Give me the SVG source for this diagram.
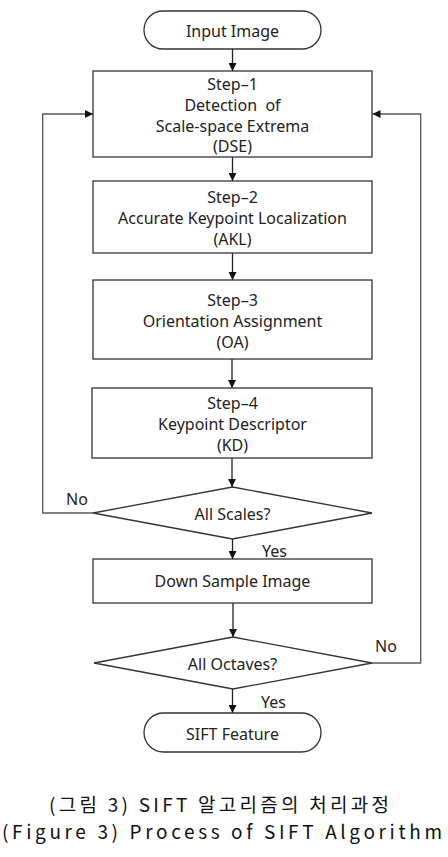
<svg xmlns="http://www.w3.org/2000/svg" width="448" height="857" viewBox="0 0 448 857">
<defs>
<marker id="ah" viewBox="0 0 10 10" refX="10" refY="5" markerWidth="8" markerHeight="8" markerUnits="userSpaceOnUse" orient="auto">
<path d="M0,0 L10,5 L0,10 z" fill="#111"/>
</marker>
</defs>
<style>
.n{fill:#fff;stroke:#333;stroke-width:1.3}
.t{font-family:"Noto Sans","Open Sans",sans-serif;font-size:16px;fill:#222;text-anchor:middle}
.l{font-family:"Noto Sans","Open Sans",sans-serif;font-size:16px;fill:#222}
.c{fill:none;stroke:#222;stroke-width:1.3}
.f{fill:none;stroke:#555;stroke-width:1.3}
.cap{font-family:"Noto Sans CJK KR","Noto Sans",sans-serif;font-size:19px;fill:#111}
</style>
<rect width="448" height="857" fill="#fff"/>
<g id="connectors">
<line class="c" x1="232.5" y1="49" x2="232.5" y2="71" marker-end="url(#ah)"/>
<line class="c" x1="232.5" y1="157" x2="232.5" y2="181" marker-end="url(#ah)"/>
<line class="c" x1="232.5" y1="253" x2="232.5" y2="280" marker-end="url(#ah)"/>
<line class="c" x1="232" y1="359" x2="232" y2="388" marker-end="url(#ah)"/>
<line class="c" x1="232" y1="458" x2="232" y2="487" marker-end="url(#ah)"/>
<line class="c" x1="232.5" y1="539" x2="232.5" y2="559" marker-end="url(#ah)"/>
<line class="c" x1="233" y1="603" x2="233" y2="637" marker-end="url(#ah)"/>
<line class="c" x1="232.5" y1="689" x2="232.5" y2="713" marker-end="url(#ah)"/>
<polyline class="f" points="93,513 42.7,513 42.7,114 93,114" marker-end="url(#ah)"/>
<polyline class="f" points="372,663 420.7,663 420.7,114 372.5,114" marker-end="url(#ah)"/>
<text class="l" x="66" y="505">No</text>
<text class="l" x="262" y="557">Yes</text>
<text class="l" x="375" y="652">No</text>
<text class="l" x="261" y="708">Yes</text>
</g>
<g id="input">
<rect class="n" x="144" y="11" width="177" height="38" rx="19"/>
<text class="t" x="232.5" y="36.5">Input Image</text>
</g>
<g id="step1">
<rect class="n" x="93" y="71" width="279" height="86"/>
<text class="t" x="232.5" y="89.5">Step–1</text>
<text class="t" x="232.5" y="110.5" xml:space="preserve">Detection  of</text>
<text class="t" x="232.5" y="131.5">Scale-space Extrema</text>
<text class="t" x="232.5" y="152">(DSE)</text>
</g>
<g id="step2">
<rect class="n" x="93" y="181" width="279" height="72"/>
<text class="t" x="232.5" y="203">Step–2</text>
<text class="t" x="232.5" y="224">Accurate Keypoint Localization</text>
<text class="t" x="232.5" y="245">(AKL)</text>
</g>
<g id="step3">
<rect class="n" x="93" y="280" width="279" height="79"/>
<text class="t" x="232.5" y="306">Step–3</text>
<text class="t" x="232.5" y="327">Orientation Assignment</text>
<text class="t" x="232.5" y="348">(OA)</text>
</g>
<g id="step4">
<rect class="n" x="92" y="388" width="280" height="70"/>
<text class="t" x="232.5" y="409">Step–4</text>
<text class="t" x="232.5" y="430">Keypoint Descriptor</text>
<text class="t" x="232.5" y="451">(KD)</text>
</g>
<g id="allscales">
<polygon class="n" points="232.5,487 372,513 232.5,539 93,513"/>
<text class="t" x="232.5" y="520">All Scales?</text>
</g>
<g id="downsample">
<rect class="n" x="93" y="559" width="279" height="44"/>
<text class="t" x="232.5" y="587">Down Sample Image</text>
</g>
<g id="alloctaves">
<polygon class="n" points="233,637 372,663 233,689 94,663"/>
<text class="t" x="232.5" y="670">All Octaves?</text>
</g>
<g id="sift">
<rect class="n" x="144" y="713" width="177" height="39" rx="19.5"/>
<text class="t" x="232.5" y="740">SIFT Feature</text>
</g>
<g id="caption">
<text class="cap" x="49" y="812" textLength="340" lengthAdjust="spacing">(그림 3) SIFT 알고리즘의 처리과정</text>
<text class="cap" x="2" y="839" textLength="440" lengthAdjust="spacing">(Figure 3) Process of SIFT Algorithm</text>
</g>
</svg>
